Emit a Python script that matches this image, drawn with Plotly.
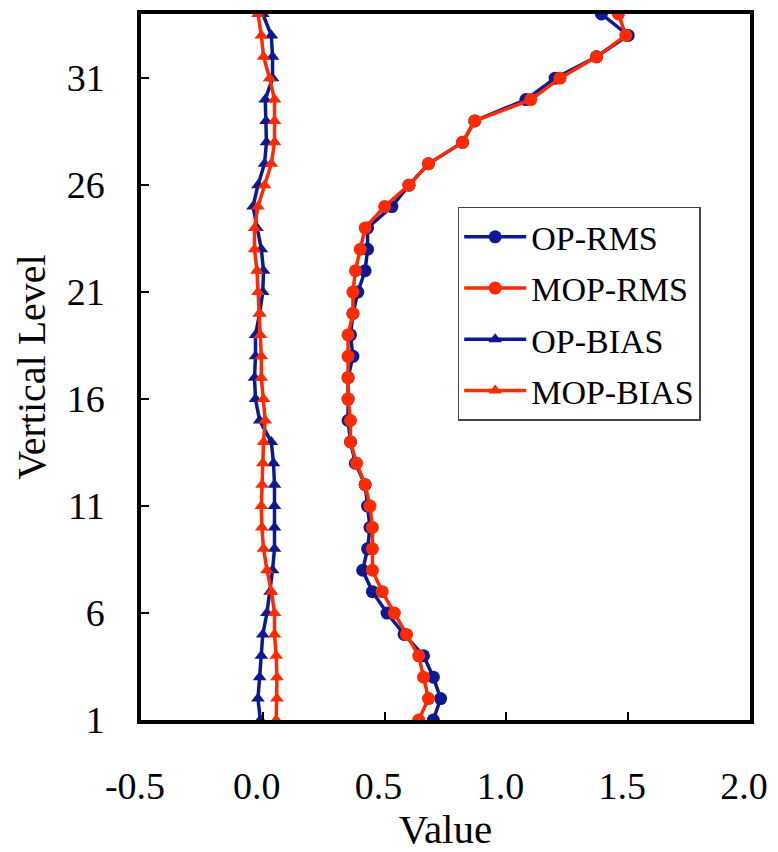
import plotly.graph_objects as go

levels = list(range(1, 35))

op_rms = [0.70, 0.73, 0.70, 0.66, 0.58, 0.51, 0.45, 0.41, 0.43, 0.44,
          0.43, 0.42, 0.38, 0.36, 0.35, 0.35, 0.35, 0.37, 0.36, 0.37,
          0.39, 0.42, 0.43, 0.43, 0.53, 0.60, 0.68, 0.82, 0.87, 1.08,
          1.20, 1.37, 1.50, 1.39]
mop_rms = [0.64, 0.68, 0.66, 0.64, 0.59, 0.54, 0.49, 0.45, 0.45, 0.45,
           0.44, 0.42, 0.385, 0.36, 0.36, 0.35, 0.35, 0.35, 0.35, 0.37,
           0.37, 0.38, 0.40, 0.42, 0.50, 0.60, 0.68, 0.82, 0.87, 1.10,
           1.22, 1.37, 1.49, 1.46]
op_bias = [-0.01, -0.02, -0.013, -0.006, 0.0, 0.017, 0.03, 0.04, 0.048, 0.048,
           0.048, 0.048, 0.044, 0.035, -0.013, -0.03, -0.034, -0.03, -0.03, -0.013,
           0.0, 0.003, -0.006, -0.024, -0.04, -0.02, 0.007, 0.015, 0.013, 0.01,
           0.04, 0.04, 0.035, 0.0]
mop_bias = [0.055, 0.058, 0.058, 0.055, 0.048, 0.048, 0.036, 0.017, 0.003, -0.004,
            -0.006, -0.003, 0.0, 0.003, 0.01, 0.003, -0.006, -0.006, -0.01, -0.013,
            -0.02, -0.024, -0.034, -0.034, -0.02, 0.007, 0.035, 0.048, 0.048, 0.048,
            0.028, 0.003, -0.006, -0.02]

x_ticks = [-0.5, 0.0, 0.5, 1.0, 1.5, 2.0]
x_tick_labels = ["-0.5", "0.0", "0.5", "1.0", "1.5", "2.0"]
y_ticks = [1, 6, 11, 16, 21, 26, 31]

BLUE = "#0b1a92"
RED = "#ff2a00"
FONT = "Liberation Serif, Times New Roman, serif"

series = [
    ("OP-RMS", op_rms, BLUE, "circle", 13),
    ("MOP-RMS", mop_rms, RED, "circle", 13),
    ("OP-BIAS", op_bias, BLUE, "triangle-up", 12),
    ("MOP-BIAS", mop_bias, RED, "triangle-up", 12),
]

fig = go.Figure()
for i, (name, vals, col, sym, sz) in enumerate(series):
    fig.add_trace(go.Scatter(
        x=vals, y=levels, name=name, mode="lines+markers",
        line=dict(color=col, width=3.5),
        marker=dict(color=col, symbol=sym, size=sz, line=dict(width=0)),
        legendgroup=f"g{i}",
    ))

fig.update_layout(
    width=778, height=852,
    margin=dict(l=141, r=26, t=10, b=129),
    plot_bgcolor="white", paper_bgcolor="white",
    font=dict(family=FONT, size=38, color="black"),
    showlegend=True,
    legend=dict(
        x=0.52, y=0.727, xanchor="left", yanchor="top",
        bgcolor="white", bordercolor="#444", borderwidth=1.5,
        font=dict(family=FONT, size=34, color="black"),
        tracegroupgap=4, itemwidth=62,
    ),
    xaxis=dict(
        range=[-0.5, 2.0], tickvals=x_ticks, ticktext=x_tick_labels,
        ticks="inside", ticklen=8, tickwidth=1.5, tickcolor="black",
        showgrid=False, zeroline=False,
        showline=True, linecolor="black", linewidth=3.5, mirror=True,
        ticklabelstandoff=30, ticklabelshift=-6,
        title=dict(text="Value", font=dict(family=FONT, size=41), standoff=6),
        tickfont=dict(family=FONT, size=38),
    ),
    yaxis=dict(
        range=[1, 34], tickvals=y_ticks,
        ticks="inside", ticklen=8, tickwidth=1.5, tickcolor="black",
        showgrid=False, zeroline=False,
        showline=True, linecolor="black", linewidth=3.5, mirror=True,
        ticklabelstandoff=25,
        title=dict(text="Vertical Level", font=dict(family=FONT, size=40), standoff=10),
        tickfont=dict(family=FONT, size=38),
    ),
)

fig.write_html("out.html")
